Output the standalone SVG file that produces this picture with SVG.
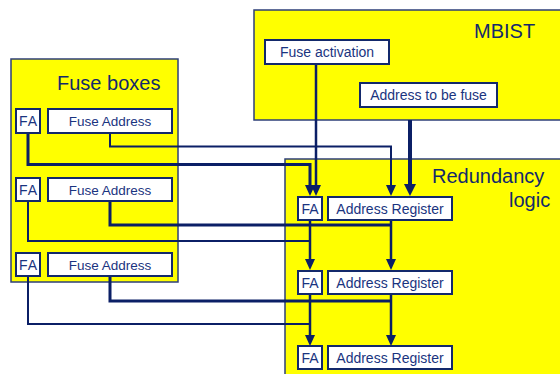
<svg xmlns="http://www.w3.org/2000/svg" width="560" height="374" viewBox="0 0 560 374">
  <style>
    .area { fill: #FFFF00; stroke: #2E3F78; stroke-width: 1.5; }
    .box { fill: #FFFFFF; stroke: #13296B; stroke-width: 2; }
    .title { font-family: "Liberation Sans", Arial, sans-serif; font-size: 20px; fill: #13296B; }
    .lbl { font-family: "Liberation Sans", Arial, sans-serif; font-size: 14px; fill: #1A3480; text-anchor: middle; }
    .lbl-s { font-family: "Liberation Sans", Arial, sans-serif; font-size: 13.5px; fill: #1A3480; text-anchor: middle; }
    .wire { fill: none; stroke: #0B1F66; stroke-linejoin: miter; stroke-linecap: butt; }
    .w-thin { stroke-width: 2; }
    .w-mid { stroke-width: 2.5; }
    .w-bold { stroke-width: 3; }
    .w-heavy { stroke-width: 4; }
  </style>
  <defs>
    <marker id="arrow" markerUnits="userSpaceOnUse" markerWidth="11" markerHeight="11" refX="0" refY="5" orient="auto" overflow="visible">
      <path d="M0,0 L11,5 L0,10 Z" fill="#0B1F66"/>
    </marker>
    <marker id="arrow-big" markerUnits="userSpaceOnUse" markerWidth="12" markerHeight="12" refX="0" refY="6" orient="auto" overflow="visible">
      <path d="M0,0 L12,6 L0,12 Z" fill="#0B1F66"/>
    </marker>
  </defs>

  <!-- enclosing blocks -->
  <g id="fuse-boxes">
    <rect class="area" x="11" y="59" width="167" height="223"/>
    <text class="title" x="57" y="90">Fuse boxes</text>
  </g>
  <g id="mbist">
    <rect class="area" x="254" y="10" width="320" height="110"/>
    <text class="title" x="474" y="38">MBIST</text>
  </g>
  <g id="redundancy-logic">
    <rect class="area" x="285" y="159" width="290" height="230"/>
    <text class="title" x="432" y="183">Redundancy</text>
    <text class="title" x="509" y="207">logic</text>
  </g>

  <!-- wiring -->
  <g id="connectors">
    <!-- MBIST outputs -->
    <path class="wire w-mid" d="M316,64 V185" marker-end="url(#arrow)"/>
    <path class="wire w-heavy" d="M410,120 V184" marker-end="url(#arrow-big)"/>
    <!-- fuse box row 1 -->
    <path class="wire w-thin" d="M110,133 V146.5 H391 V185" marker-end="url(#arrow)"/>
    <path class="wire w-bold" d="M28,133 V164.5 H310 V185" marker-end="url(#arrow)"/>
    <!-- fuse box row 2 -->
    <path class="wire w-bold" d="M110,201 V225 H391"/>
    <path class="wire w-thin" d="M28,201 V241 H310"/>
    <!-- fuse box row 3 -->
    <path class="wire w-bold" d="M110,276 V301 H391"/>
    <path class="wire w-thin" d="M28,276 V324 H310"/>
    <!-- register chain -->
    <path class="wire w-mid" d="M310,220 V259" marker-end="url(#arrow)"/>
    <path class="wire w-mid" d="M391,220 V259" marker-end="url(#arrow)"/>
    <path class="wire w-mid" d="M310,294 V335" marker-end="url(#arrow)"/>
    <path class="wire w-mid" d="M391,294 V335" marker-end="url(#arrow)"/>
  </g>

  <!-- MBIST contents -->
  <g id="fuse-activation">
    <rect class="box" x="265" y="40" width="124" height="24"/>
    <text class="lbl" x="327" y="57">Fuse activation</text>
  </g>
  <g id="address-to-fuse">
    <rect class="box" x="360" y="83" width="137" height="24"/>
    <text class="lbl" x="428.5" y="100">Address to be fuse</text>
  </g>

  <!-- fuse box rows -->
  <g id="fa-1">
    <rect class="box" x="16" y="109" width="24" height="24"/>
    <text class="lbl" x="28.5" y="126" letter-spacing="1">FA</text>
  </g>
  <g id="fuse-address-1">
    <rect class="box" x="48" y="109" width="124" height="24"/>
    <text class="lbl-s" x="110" y="126">Fuse Address</text>
  </g>
  <g id="fa-2">
    <rect class="box" x="16" y="178" width="24" height="23"/>
    <text class="lbl" x="28.5" y="195" letter-spacing="1">FA</text>
  </g>
  <g id="fuse-address-2">
    <rect class="box" x="48" y="178" width="124" height="23"/>
    <text class="lbl-s" x="110" y="195">Fuse Address</text>
  </g>
  <g id="fa-3">
    <rect class="box" x="16" y="253" width="24" height="23"/>
    <text class="lbl" x="28.5" y="270" letter-spacing="1">FA</text>
  </g>
  <g id="fuse-address-3">
    <rect class="box" x="48" y="253" width="124" height="23"/>
    <text class="lbl-s" x="110" y="270">Fuse Address</text>
  </g>

  <!-- redundancy registers -->
  <g id="reg-fa-1">
    <rect class="box" x="298" y="197" width="24" height="23"/>
    <text class="lbl" x="310" y="214">FA</text>
  </g>
  <g id="address-register-1">
    <rect class="box" x="328" y="197" width="124" height="23"/>
    <text class="lbl" x="390" y="214">Address Register</text>
  </g>
  <g id="reg-fa-2">
    <rect class="box" x="298" y="271" width="24" height="23"/>
    <text class="lbl" x="310" y="288">FA</text>
  </g>
  <g id="address-register-2">
    <rect class="box" x="328" y="271" width="124" height="23"/>
    <text class="lbl" x="390" y="288">Address Register</text>
  </g>
  <g id="reg-fa-3">
    <rect class="box" x="298" y="346" width="24" height="23"/>
    <text class="lbl" x="310" y="363">FA</text>
  </g>
  <g id="address-register-3">
    <rect class="box" x="328" y="346" width="124" height="23"/>
    <text class="lbl" x="390" y="363">Address Register</text>
  </g>
</svg>
